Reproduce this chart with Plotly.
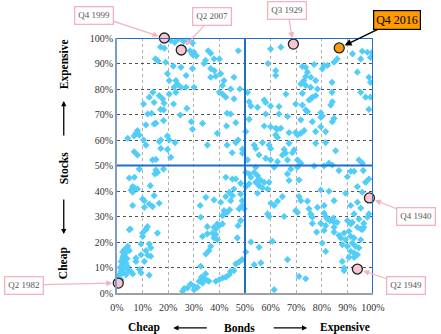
import plotly.graph_objects as go

# Quarterly valuation percentiles: bonds (x) vs stocks (y), in %
bond_pct = [
    21, 22.5, 24, 26, 28, 29.5, 17, 18.5, 28.5, 29.5, 31, 30, 35.6, 36.6, 47.4, 15, 16, 19, 22, 25, 29.5,
    34.6, 37.9, 40, 34, 36.6, 38, 36.6, 38.6, 19.7, 20.4, 27, 23, 23.6, 22.3, 25, 27, 30.1, 40.5, 41.8,
    41.2, 45.7, 44.4, 48, 40, 41.2, 12.6, 14, 16.5, 17.8, 20.4, 23, 42.5, 45.7,
    60, 64, 59, 62, 62, 72.4, 73.7, 77, 80.9, 80.2, 82.2, 84.8, 86, 92, 95.8, 97.8, 99.7, 95.2, 99, 74.4,
    73.7, 73, 75.7, 77.6, 71.8, 73.7, 75.7, 78.3, 84, 93.9, 98.4, 99, 51, 66, 72.4, 76.3, 77.6, 75.7, 84,
    95.2, 97.1, 99, 57.5,
    10.4, 14.5, 18.4, 22.1, 27.3, 17, 18.2, 12, 13.5, 24.7, 43, 44.4, 11.3, 14.5, 15.2, 18.2, 29, 33.4,
    29.5, 42.8, 46.4, 8, 7.4, 8.7, 6.7, 4.2, 10.4, 39.2, 19.7, 20.4, 16.5, 17.1, 11.3, 22.7, 17.1, 19.7,
    35.3, 43, 46.4, 47.3, 6.7, 8, 21, 13.9, 15.2, 45, 49, 49,
    51.6, 52.3, 54.9, 58.1, 60, 63.3, 69.8, 72.4, 75, 73.7, 74.4, 83.5, 84.1, 98.4, 58.1, 63.3, 66.6,
    71.8, 76.3, 79.6, 80.2, 79.6, 84.8, 84.1, 51.6, 50.3, 57.5, 60, 62, 62.7, 64, 62, 62.7, 67.2, 69.8,
    70.5, 71.8, 73.1, 77.6, 79.6, 81.5, 56.8, 59.4, 60, 53.6, 54.2, 65.3, 67.2, 69.2, 68.5, 65.9, 64.6,
    77.6, 81.5, 85.4, 51, 55.5, 58.1, 60, 62.7, 66.6, 70.5, 71.8, 82.8, 84.1, 94.5, 95.8,
    8.7, 15.2, 15.8, 14.8, 18.2, 4.8, 6.8, 6.1, 6.8, 5.5, 6.1, 8, 13, 14.5, 10, 10.7, 12.6, 13.9, 16.5,
    6.1, 10.7, 5.2, 11.9, 11.3, 42.5, 45.1, 46.4, 48.3, 45.7, 34.7, 37.9, 32.5, 42.5, 43.8, 45.1, 44.4,
    48.3, 48.9, 40.5, 41.8, 43, 44, 47.7, 48.9, 32.7, 41.2, 41.8, 48.3, 47.3, 35.3, 37.9, 39.2, 39.9,
    41.2, 38.6,
    50.3, 51.6, 53.6, 54.9, 55.5, 56.2, 57.5, 52.3, 54.2, 55.5, 56.8, 51.6, 50.3, 54.9, 58.8, 59.4, 61.4,
    54.2, 66.6, 67.9, 70.5, 67.2, 71.1, 77, 80.9, 86.7, 91.3, 92.6, 96.2, 90, 93.9, 97.1, 98.4, 95.8,
    79.6, 82.8, 89.3, 64.6, 62.7, 60.1, 61.4, 71.1, 71.8, 74.4, 75, 78.3, 80.9, 84.8, 91.3, 93.9, 95.2,
    49.7, 58.8, 59.4, 65.3, 69.8, 70.5, 75.7, 76.3, 80.9, 81.5, 82.2, 83.2, 84.5, 84.8, 86, 92.6, 94.5,
    96.4, 97.8, 98.4, 76.3, 79.6, 84.8, 81.5, 91.3, 93.9, 95.2, 96.4, 90, 91.9,
    4.8, 10, 11.3, 15.8, 10, 4.2, 2.9, 2.2, 4.8, 9.4, 12.6, 13.2, 11.3, 9.4, 12, 13.2, 10.7, 7.4, 7.4,
    2.9, 2.2, 2.9, 1.6, 3.5, 2.2, 2.9, 4.2, 1.6, 0.9, 2.2, 3.5, 4.8, 5.5, 6.1, 0.9, 1.6, 8.7, 9.4, 12.6,
    1.2, 3.9, 2.5, 4.0, 1.9, 3.3,
    25.6, 26.2, 27.5, 28.8, 30.1, 30.1, 31.4, 32.1, 33, 34, 33.4, 35.3, 35.9, 34.6, 38.6, 39.9, 41.2,
    42.5, 43.8, 44.4, 45.7, 46.4, 47.7, 48.9, 33.4, 35.3, 37.3, 38.6, 37.9, 39.2, 36.6, 35.9, 34.7, 32.7,
    47,
    52.3, 55.5, 50.3, 60.7, 53.6, 56.2, 66.6, 71.1, 73.7, 61.4, 78, 80.9, 80.2, 81.5, 84.8, 86.7, 88.7,
    90.6, 87.4, 89.3, 91.3, 92.6, 88, 90, 91.9, 93.2, 94.5, 91.3, 92.6, 93.9, 90.6, 92.6, 95.2, 95.8, 88,
    88.7, 88.7,
]
stock_pct = [
    99, 98.3, 99.5, 98.7, 99.2, 98, 96.5, 96, 95, 93.5, 93, 94.5, 95, 94, 95, 91.8, 91, 90.5, 89, 88.5, 88,
    91.2, 91.8, 91.8, 90, 88, 87.2, 84.6, 85, 86, 83.3, 85.3, 83.3, 82, 80.7, 80.7, 80.7, 80.7, 86, 83.3,
    81.4, 84.6, 80, 80, 78.7, 78, 76.8, 78.7, 77.4, 76.1, 78, 78.7, 76.8, 76.1,
    95.7, 96.4, 90, 87.2, 85.3, 88.8, 88.5, 89.6, 89.2, 87.9, 89.2, 90.5, 91.8, 93.8, 94.8, 94.4, 94.4,
    91.8, 92.4, 86.6, 84.9, 83.3, 84.6, 83.3, 82, 81.4, 80.7, 80, 82.6, 86.6, 84.6, 82.6, 78.7, 78, 78.3,
    76.8, 77.4, 76.1, 78.7, 78.7, 76.8, 76.8, 75.7,
    74.1, 74.7, 74.4, 74.1, 72.4, 72, 71.8, 70.2, 70.5, 69.8, 70.5, 70.2, 65.9, 66.3, 66.6, 67.6, 67.2,
    66.5, 64.2, 65.5, 66.8, 63.7, 62.6, 62, 61.6, 60.7, 60, 62.6, 61.6, 60, 59.4, 60, 58, 59, 56.7, 56.3,
    58, 58, 59, 60, 55.4, 54.1, 53.2, 52.2, 52.4, 55, 56.4, 54.8,
    75, 73.3, 72.8, 74.7, 73.3, 73.1, 74.1, 73.7, 75.7, 71.8, 71.1, 73.7, 75, 72, 70.2, 70.2, 69.2, 67.9,
    67.2, 70.7, 69.4, 68.9, 68.5, 67.2, 68.1, 63.3, 65.5, 65.2, 64.6, 64.2, 64.6, 62, 61, 62.9, 62.9, 62,
    62.6, 63.7, 63.3, 65.2, 63.3, 59, 58, 56.7, 58, 56.7, 56.3, 58.7, 56.1, 55, 54.8, 54.1, 58.7, 59,
    55.8, 52.2, 54.1, 52.8, 52.2, 51.5, 52.2, 52.2, 50.9, 50.9, 50.2, 52.2, 50.9,
    48.6, 48.2, 47.3, 46.7, 48.6, 45.1, 45.4, 41.7, 41.2, 40.4, 39.5, 40.8, 42.1, 38.2, 36.9, 36.2, 34.9,
    33.9, 35.2, 34.3, 33.6, 25.1, 26, 25.1, 45.4, 44.7, 44.7, 43, 40.8, 37.5, 36.5, 34.3, 37.8, 39.5,
    38.2, 36.2, 38.8, 36.2, 35.6, 32.3, 31.6, 32.6, 33, 34.3, 29.7, 30.3, 31, 28.4, 26.4, 26, 25.8, 27.1,
    26.4, 27.1, 25.1,
    47.3, 46.7, 47.3, 46, 44.7, 44.1, 43.4, 45.4, 43.4, 42.1, 41.2, 42.8, 41.7, 39.1, 40.8, 43.4, 49.3,
    49.3, 46.7, 48.6, 49.3, 44.1, 44.3, 49.8, 49.8, 48, 47.7, 47.7, 48, 45.6, 41.7, 43.4, 44.7, 39.5, 40.4,
    39.9, 39.1, 37.8, 36, 35.2, 34.3, 37.8, 36.2, 36, 33, 33.6, 34.3, 36.2, 34.3, 35.6, 33.3, 33, 31, 30,
    30, 32.3, 31.6, 31, 29.7, 31.3, 30, 29, 28.4, 29.4, 27.7, 27.7, 31, 29, 27.3, 29.7, 31, 27.3, 27.3,
    25.8, 26.4, 27.1, 25.8, 25.1, 25.8, 28.4, 27.7,
    24.8, 23.5, 24.8, 23.5, 22.2, 18.3, 17, 16.1, 16.6, 19.2, 19.2, 17.7, 16.6, 15, 14.8, 14.4, 12.4, 13.7,
    12.4, 15, 13.7, 13.1, 12.4, 11.8, 11.1, 9.8, 9.2, 8.5, 7.2, 7.9, 7.2, 8.8, 8.3, 7.5, 5.9, 5.2, 9.2,
    7.9, 7, 10, 13.5, 14.5, 10.5, 9.4, 16,
    0.7, 1.7, 2, 3.5, 2.6, 1.3, 2.2, 4.6, 6.2, 5.6, 3.9, 4.9, 4.6, 7.5, 4.6, 5.2, 5.9, 6.2, 7.2, 8.5, 8.8,
    11.4, 12.2, 13.1, 22.2, 23.2, 23.5, 22.9, 21.6, 20.9, 18.3, 16.6, 15.3, 10.5, 21.6,
    20, 17.9, 16.1, 20.3, 11.1, 11.8, 13.1, 6.5, 5.6, 1.3, 23.9, 24.5, 19.6, 16.3, 23.9, 22.6, 23.5, 24.2,
    21.6, 20.9, 22.2, 21.6, 19, 18.3, 19.6, 18.3, 17.7, 16.3, 15.7, 15, 14, 14, 20.9, 24.8, 12.4, 9.8,
    8.8,
]

# Labelled quarters
event_labels = ["Q4 1999", "Q2 2007", "Q3 1929", "Q4 1940", "Q2 1949", "Q2 1982"]
event_bonds = [18.5, 25.1, 68.9, 98.6, 93.9, 0.5]
event_stocks = [100, 95.3, 97.6, 37.3, 9.4, 3.9]
event_offsets = [(-70, -23), (31, -33), (-6, -34), (47, 19), (49, 16), (-94, 2)]

latest_label = "Q4 2016"
latest_bond = 86.8
latest_stock = 96.1

tick_vals = [0, 10, 20, 30, 40, 50, 60, 70, 80, 90, 100]
tick_text = ["0%", "10%", "20%", "30%", "40%", "50%", "60%", "70%", "80%", "90%", "100%"]

SERIF = "Liberation Serif, Times New Roman, serif"
PINK = "#f2b3c0"
BLUE = "#1f6fc5"

fig = go.Figure()
fig.add_trace(go.Scatter(
    x=bond_pct, y=stock_pct, mode="markers",
    marker=dict(symbol="diamond", size=5.5, color="#52cdf8"),
    hoverinfo="skip", showlegend=False,
))
fig.add_trace(go.Scatter(
    x=event_bonds, y=event_stocks, mode="markers", cliponaxis=False,
    marker=dict(symbol="circle", size=10, color="#f7c6d0", line=dict(color="#222", width=1.3)),
    showlegend=False,
))
fig.add_trace(go.Scatter(
    x=[latest_bond], y=[latest_stock], mode="markers", cliponaxis=False,
    marker=dict(symbol="circle", size=10, color="#f79a0e", line=dict(color="#222", width=1.3)),
    showlegend=False,
))

annotations = []
for lab, bx, sy, (ox, oy) in zip(event_labels, event_bonds, event_stocks, event_offsets):
    annotations.append(dict(
        x=bx, y=sy, xref="x", yref="y", text=lab, showarrow=True,
        ax=ox, ay=oy, arrowhead=2, arrowsize=1, arrowwidth=1.2, arrowcolor=PINK,
        standoff=6, font=dict(family=SERIF, size=9, color="#555"),
        bgcolor="white", bordercolor=PINK, borderwidth=1.3, borderpad=3,
    ))
annotations.append(dict(
    x=latest_bond, y=latest_stock, xref="x", yref="y", text=latest_label, showarrow=True,
    ax=58, ay=-28, arrowhead=2, arrowsize=1, arrowwidth=1.4, arrowcolor="black",
    standoff=6, font=dict(family=SERIF, size=12, color="black"),
    bgcolor="#ff9a00", bordercolor="black", borderwidth=1.2, borderpad=2,
))

# Axis captions
title_font = dict(family=SERIF, size=11.5, color="black")
for txt, yp in [("Expensive", 0.898), ("Stocks", 0.49), ("Cheap", 0.118)]:
    annotations.append(dict(x=-0.206, y=yp, xref="paper", yref="paper", text="<b>%s</b>" % txt,
                            textangle=-90, showarrow=False, font=title_font,
                            xanchor="center", yanchor="middle"))
for txt, xp in [("Cheap", 0.107), ("Bonds", 0.478), ("Expensive", 0.892)]:
    annotations.append(dict(x=xp, y=-0.137, xref="paper", yref="paper", text="<b>%s</b>" % txt,
                            showarrow=False, font=title_font, xanchor="center", yanchor="middle"))
# Direction arrows
arrow_style = dict(xref="paper", yref="paper", text="", showarrow=True, arrowhead=2,
                   arrowsize=0.8, arrowwidth=1.3, arrowcolor="black")
annotations += [
    dict(x=-0.208, y=0.753, ax=0, ay=36, **arrow_style),
    dict(x=-0.208, y=0.231, ax=0, ay=-36, **arrow_style),
    dict(x=0.22, y=-0.137, ax=35, ay=0, **arrow_style),
    dict(x=0.743, y=-0.137, ax=-35, ay=0, **arrow_style),
]

shapes = [
    dict(type="line", xref="x", yref="y", x0=50, x1=50, y0=0, y1=100, line=dict(color=BLUE, width=2)),
    dict(type="line", xref="x", yref="y", x0=0, x1=100, y0=50, y1=50, line=dict(color=BLUE, width=2)),
    dict(type="line", xref="x", yref="y", x0=0, x1=100, y0=100, y1=100, line=dict(color=BLUE, width=2)),
    dict(type="line", xref="x", yref="y", x0=100, x1=100, y0=0, y1=100, line=dict(color=BLUE, width=2)),
]

fig.update_layout(
    width=441, height=334,
    margin=dict(l=117, r=68, t=38, b=41),
    paper_bgcolor="white", plot_bgcolor="white",
    annotations=annotations, shapes=shapes,
    xaxis=dict(range=[0, 100], tickvals=tick_vals, ticktext=tick_text, showgrid=True,
               gridcolor="#b0b0b0", griddash="dot", gridwidth=1, zeroline=False,
               showline=True, linecolor="#a0a0a0", linewidth=2, ticks="outside", ticklen=4,
               tickcolor="rgba(0,0,0,0)",
               tickfont=dict(family=SERIF, size=10, color="#333"), fixedrange=True),
    yaxis=dict(range=[0, 100], tickvals=tick_vals, ticktext=tick_text, showgrid=True,
               gridcolor="#555555", griddash="dot", gridwidth=1, zeroline=False,
               showline=True, linecolor="#7f9cc4", linewidth=2, ticks="",
               tickfont=dict(family=SERIF, size=10, color="#333"), fixedrange=True),
)

fig.write_html("out.html")
